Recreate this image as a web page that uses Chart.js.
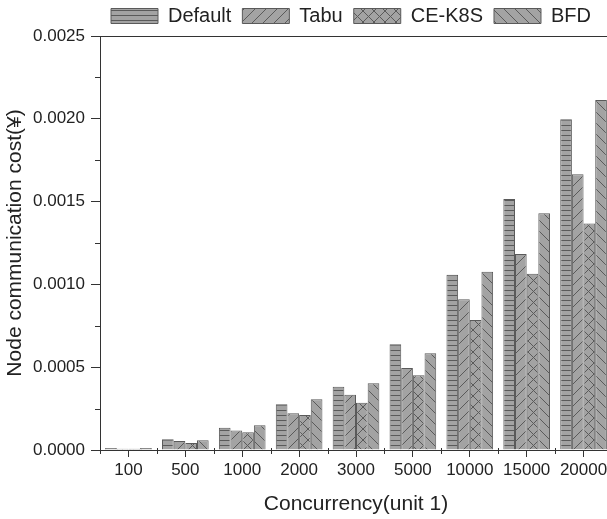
<!DOCTYPE html>
<html>
<head>
<meta charset="utf-8">
<script src="https://cdn.jsdelivr.net/npm/chart.js@4.4.0/dist/chart.umd.min.js"></script>
<style>
  html, body { margin: 0; padding: 0; background: #fff; overflow: hidden; }
  #wrap { width: 607px; height: 519px; overflow: hidden; }
  canvas { display: block; }
</style>
</head>
<body>
<div id="wrap"><canvas id="myChart" width="612" height="519"></canvas></div>
<script>
'use strict';

// chart data
var categories = ['100', '500', '1000', '2000', '3000', '5000', '10000', '15000', '20000'];
var defaultCost = [0.000012, 0.000065, 0.000135, 0.000276, 0.000382, 0.000638, 0.001059, 0.001516, 0.001997];
var tabuCost = [0.000008, 0.000054, 0.000117, 0.000222, 0.000334, 0.000495, 0.000910, 0.001184, 0.001665];
var ceK8sCost = [0.000007, 0.000042, 0.000107, 0.000211, 0.000286, 0.000451, 0.000785, 0.001065, 0.001367];
var bfdCost = [0.000012, 0.000059, 0.000149, 0.000306, 0.000403, 0.000584, 0.001077, 0.001429, 0.002114];
var seriesNames = ['Default', 'Tabu', 'CE-K8S', 'BFD'];
var yTicks = [0, 0.0005, 0.0010, 0.0015, 0.0020, 0.0025];

var fillGray = '#a3a3a3';
var lineGray = '#5a5a5a';
var axisColor = '#333';
var fontFamily = '"Liberation Sans", Arial, sans-serif';

var ctx = document.getElementById('myChart').getContext('2d');

// little tiles for the hatch fills
function makePattern(kind) {
  var size = kind === 'horizontal' ? 5 : 11;
  var tile = document.createElement('canvas');
  tile.width = size;
  tile.height = size;
  var g = tile.getContext('2d');
  g.fillStyle = fillGray;
  g.fillRect(0, 0, size, size);
  g.strokeStyle = lineGray;
  g.lineWidth = 1;
  g.beginPath();
  if (kind === 'horizontal') {
    g.moveTo(0, 0.5);
    g.lineTo(size, 0.5);
  }
  if (kind === 'forward' || kind === 'cross') {
    g.moveTo(-1, size + 1);
    g.lineTo(size + 1, -1);
  }
  if (kind === 'back' || kind === 'cross') {
    g.moveTo(-1, -1);
    g.lineTo(size + 1, size + 1);
  }
  g.stroke();
  return ctx.createPattern(tile, 'repeat');
}

// minor ticks + top frame line
var frameAndMinorTicks = {
  id: 'frameAndMinorTicks',
  afterDraw: function (chart) {
    var c = chart.ctx;
    var area = chart.chartArea;
    var yScale = chart.scales.y;
    c.save();
    c.strokeStyle = axisColor;
    c.lineWidth = 1;
    c.beginPath();
    // top border
    c.moveTo(area.left, Math.round(area.top) + 0.5);
    c.lineTo(area.right, Math.round(area.top) + 0.5);
    // y minor ticks
    for (var i = 0; i < yTicks.length - 1; i++) {
      var mid = (yTicks[i] + yTicks[i + 1]) / 2;
      var py = Math.round(yScale.getPixelForValue(mid)) + 0.5;
      c.moveTo(area.left - 5, py);
      c.lineTo(area.left, py);
    }
    // x minor ticks at category borders
    var step = (area.right - area.left) / categories.length;
    for (var j = 0; j <= categories.length; j++) {
      var px = Math.round(area.left + j * step) + 0.5;
      c.moveTo(px, area.bottom - 2);
      c.lineTo(px, area.bottom + 4);
    }
    c.stroke();
    c.restore();
  }
};

var chart = new Chart(ctx, {
  type: 'bar',
  data: {
    labels: categories,
    datasets: [
      { label: seriesNames[0], data: defaultCost, backgroundColor: makePattern('horizontal') },
      { label: seriesNames[1], data: tabuCost, backgroundColor: makePattern('forward') },
      { label: seriesNames[2], data: ceK8sCost, backgroundColor: makePattern('cross') },
      { label: seriesNames[3], data: bfdCost, backgroundColor: makePattern('back') }
    ]
  },
  options: {
    responsive: false,
    animation: false,
    layout: { padding: { top: -5, right: 0, left: 0, bottom: 0 } },
    datasets: {
      bar: {
        borderColor: lineGray,
        borderWidth: 1,
        categoryPercentage: 0.82,
        barPercentage: 1.0
      }
    },
    plugins: {
      tooltip: { enabled: false },
      legend: {
        position: 'top',
        align: 'start',
        fullSize: false,
        labels: {
          boxWidth: 47,
          boxHeight: 15,
          padding: 11,
          color: '#222',
          font: { family: fontFamily, size: 20 }
        }
      }
    },
    scales: {
      x: {
        offset: true,
        grid: {
          offset: false,
          drawOnChartArea: false,
          drawTicks: true,
          tickLength: 7,
          color: axisColor
        },
        border: { display: true, color: axisColor, width: 1 },
        ticks: {
          color: '#222',
          padding: 3,
          maxRotation: 0,
          autoSkip: false,
          font: { family: fontFamily, size: 17 }
        },
        title: {
          display: true,
          text: 'Concurrency(unit 1)',
          color: '#222',
          padding: { top: 0, bottom: 2 },
          font: { family: fontFamily, size: 21 }
        },
        afterFit: function (scale) { scale.height = 69; }
      },
      y: {
        min: 0,
        max: 0.0025,
        grid: {
          drawOnChartArea: false,
          drawTicks: true,
          tickLength: 9,
          color: axisColor
        },
        border: { display: true, color: axisColor, width: 1 },
        ticks: {
          stepSize: 0.0005,
          color: '#222',
          padding: 6,
          font: { family: fontFamily, size: 17 },
          callback: function (value) { return value.toFixed(4); }
        },
        title: {
          display: true,
          text: 'Node communication cost(¥)',
          color: '#222',
          padding: { top: 3, bottom: 0 },
          font: { family: fontFamily, size: 21 }
        },
        afterFit: function (scale) { scale.width = 100; }
      }
    }
  },
  plugins: [frameAndMinorTicks]
});
</script>
</body>
</html>
